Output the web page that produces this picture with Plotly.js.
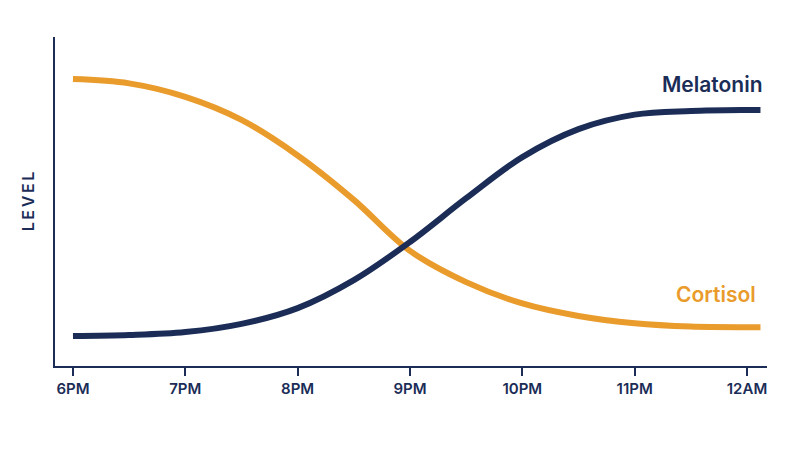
<!DOCTYPE html>
<html>
<head>
<meta charset="utf-8">
<script src="https://cdn.plot.ly/plotly-3.0.1.min.js"></script>
<style>
  html, body { margin:0; padding:0; background:#ffffff; }
  #chart { width:800px; height:450px; }
</style>
</head>
<body>
<div id="chart"></div>
<script>
// hours after 6PM
const hours = [0, 0.5, 1, 1.5, 2, 2.5, 3, 3.5, 4, 4.5, 5, 5.5, 6, 6.12];
const cortisol = [87.2, 85.9, 81.8, 74.8, 64.0, 50.5, 35.0, 25.5, 19.0, 15.2, 13.0, 12.0, 11.8, 11.8];
const melatonin = [9.1, 9.4, 10.3, 12.8, 17.6, 26.1, 37.7, 51.0, 63.5, 72.0, 76.4, 77.5, 77.8, 77.8];
const tickVals = [0, 1, 2, 3, 4, 5, 6];
const tickText = ["6PM", "7PM", "8PM", "9PM", "10PM", "11PM", "12AM"];

const NAVY = "#1b2d57";
const ORANGE = "#e99b2b";
const FONT = "Inter, 'Open Sans', sans-serif";

const traces = [
  { x: hours, y: cortisol, name: "Cortisol", type: "scatter", mode: "lines",
    line: { color: ORANGE, width: 6, shape: "spline", smoothing: 1 }, hoverinfo: "skip" },
  { x: hours, y: melatonin, name: "Melatonin", type: "scatter", mode: "lines",
    line: { color: NAVY, width: 6, shape: "spline", smoothing: 1 }, hoverinfo: "skip" }
];

const layout = {
  width: 800, height: 450,
  margin: { l: 55, r: 33, t: 37, b: 84 },
  paper_bgcolor: "#ffffff", plot_bgcolor: "#ffffff",
  showlegend: false,
  font: { family: FONT, color: NAVY },
  xaxis: {
    range: [-0.16, 6.178], showgrid: false, zeroline: false,
    showline: true, linecolor: NAVY, linewidth: 2,
    ticks: "outside", ticklen: 8, tickwidth: 2, tickcolor: NAVY,
    tickvals: tickVals, ticktext: tickText,
    tickfont: { family: FONT, size: 15, color: NAVY, weight: 600 }
  },
  yaxis: {
    range: [0, 100], showgrid: false, zeroline: false,
    showline: true, linecolor: NAVY, linewidth: 2,
    showticklabels: false, ticks: "",
    title: { text: "L\u2009E\u2009V\u2009E\u2009L", standoff: 14, font: { family: FONT, size: 16, color: NAVY, weight: 600 } }
  },
  annotations: [
    { x: 6.16, y: 85.7, xref: "x", yref: "y", text: "Melatonin", showarrow: false,
      xanchor: "right", yanchor: "middle", font: { family: FONT, size: 21, color: NAVY, weight: 600 } },
    { x: 6.10, y: 21.6, xref: "x", yref: "y", text: "Cortisol", showarrow: false,
      xanchor: "right", yanchor: "middle", font: { family: FONT, size: 21, color: ORANGE, weight: 600 } }
  ]
};

Plotly.newPlot("chart", traces, layout, { displayModeBar: false, staticPlot: true });
</script>
</body>
</html>
